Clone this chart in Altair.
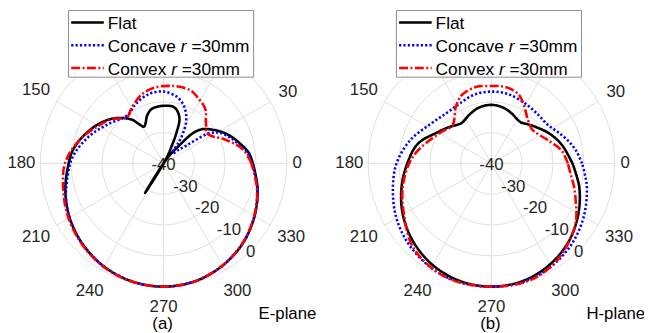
import altair as alt
import pandas as pd

# ---------------- data (angle in degrees, gain in dB) ----------------
E_FLAT_ANG = [0, 7, 13, 21, 28, 38, 42, 46, 49, 51, 54, 56, 57.9, 59.5, 61.5, 63, 64.8, 67, 71, 79, 90, 102, 109,
              113.5, 118, 122, 126, 137, 148.5, 162, 172, 180, 195, 210, 225, 240, 255, 270, 285, 300, 315, 330,
              345, 360]
E_FLAT_DB = [-11.0, -12.1, -13.9, -16.2, -18.4, -21.9, -23.5, -26.5, -32.5, -35, -37.5, -42, -51.3, -44, -38, -36,
             -34, -29.5, -24.2, -21.5, -21.3, -21.9, -23.6, -25.5, -26.5, -25, -22.4, -18.5, -15.4, -12.3, -10.2,
             -9.2, -7.0, -4.8, -2.9, -1.35, -0.35, 0, -0.4, -1.7, -3.5, -5.9, -8.4, -11.0]

E_CONC_ANG = [0, 7, 13, 21, 28, 31, 34, 36, 38, 42, 47, 51, 54, 57, 62, 69.5, 78, 90, 102, 115, 127, 144, 160,
              176, 190, 200, 211, 225, 240, 255, 270, 285, 300, 315, 330, 345, 360]
E_CONC_DB = [-11.2, -12.5, -14.4, -16.8, -19, -20.5, -22.8, -27, -30.5, -33.5, -35.6, -35.3, -32, -28.5, -24.3,
             -20.6, -18.1, -16.7, -17, -18.7, -20.5, -18.1, -14.3, -10.4, -8.2, -6.3, -4.6, -2.9, -1.35, -0.35,
             0, -0.4, -1.7, -3.5, -5.9, -8.5, -11.2]

E_CONV_ANG = [0, 7, 13, 18, 23, 27.5, 32, 36.4, 40, 45.3, 51.2, 56, 61, 69, 79.3, 86.6, 96.4, 107.4, 119.5, 128.4,
              139, 149.6, 164.7, 180, 196, 210, 225, 240, 255, 270, 285, 300, 315, 330, 345, 360]
E_CONV_DB = [-11.5, -13, -15, -17.3, -19.3, -21.4, -22.5, -22.9, -21.9, -20.5, -18.1, -17, -16.2, -14.8, -14.6,
             -14.8, -15.2, -16.5, -19.1, -20.9, -18, -15.7, -11.6, -8.0, -6.2, -4.4, -2.7, -1.2, -0.3, 0, -0.4,
             -1.7, -3.6, -6.0, -8.6, -11.5]

H_FLAT_ANG = [0, 15, 28, 40, 48, 54, 60, 67, 78, 90, 102, 113, 120, 126, 132, 140, 150, 165, 180, 195, 210, 225,
              240, 255, 270, 285, 300, 315, 330, 345, 360]
H_FLAT_DB = [-13.7, -16.4, -19.0, -21.5, -22.8, -23.6, -23.4, -22.6, -21.5, -21.0, -21.4, -22.5, -23.3, -23.7,
             -23.2, -21.8, -19.8, -15.3, -12.7, -9.8, -6.8, -4.1, -1.9, -0.5, 0, -0.5, -2.1, -4.4, -7.4, -10.5,
             -13.7]

H_CONC_ANG = [0, 8, 16.7, 26, 34, 46, 60, 76, 90, 104, 118, 132, 148, 164, 180, 195, 210, 225, 240, 255, 270, 285,
              300, 315, 330, 345, 352, 360]
H_CONC_DB = [-10.6, -12.1, -14.1, -16.3, -17.8, -18.1, -17.7, -16.9, -16.7, -17.0, -18.0, -18.1, -16.3, -12.6,
             -9.2, -6.9, -4.4, -2.4, -0.9, -0.1, 0, -0.2, -1.3, -3.1, -5.4, -7.9, -9.2, -10.6]

H_CONV_ANG = [0, 10.6, 22, 30, 36, 40.6, 46, 51, 56, 61.6, 68.6, 79.6, 90, 101.6, 112.6, 118, 123, 128, 135.6, 147,
              159.5, 170, 180, 195, 210, 227.6, 248.5, 270, 289, 305, 321, 328, 336.5, 344.5, 352, 360]
H_CONV_DB = [-15.2, -16.9, -20.1, -21.8, -22.6, -22.8, -22.2, -21.4, -20.0, -18.1, -15.9, -14.8, -14.9, -14.7,
             -15.7, -17.0, -18.6, -20.6, -22.4, -21.0, -18.6, -15.8, -13.3, -10.2, -7.2, -2.6, -0.2, 0, -0.1,
             -2.2, -5.6, -7.5, -10.2, -12.2, -14.0, -15.2]

SERIES = ["Flat", "Concave", "Convex"]
PANELS = ["E", "H"]
PANEL_TAGS = ["(a)", "(b)"]
PLANE_NAMES = ["E-plane", "H-plane"]
SPOKE_ANGLES = list(range(0, 360, 30))
ANGLE_LABELS = [0, 30, 150, 180, 210, 240, 270, 300, 330]   # 60/90/120 sit under the legend
R_TICKS = [-40, -30, -20, -10, 0]
RINGS = [-30, -20, -10, 0]
LEGEND_PIECES = [  # (series row, text, italic, x offset from text start)
    (0, "Flat", False, 0.0),
    (1, "Concave", False, 0.0), (1, "r", True, 74.0), (1, "=30mm", False, 84.7),
    (2, "Convex", False, 0.0), (2, "r", True, 64.2), (2, "=30mm", False, 74.9),
]

# ---------------- layout constants ----------------
W, H = 644, 325
K = 124.8 / 40.0          # px per dB
CY = 155.3
FONT = "Liberation Sans"
TXT = "#262626"
GRID = "#dedede"
CX_EXPR = "datum.panel == 'E' ? 157.5 : 489.5"
COLORS = {"Flat": "black", "Concave": "#0000ff", "Convex": "#ff0000"}
DASH = {"Flat": [1, 0], "Concave": [2.2, 2.2], "Convex": [9, 2.5, 2, 2.5]}
WIDTHS = {"Flat": 2.6, "Concave": 2.6, "Convex": 2.6}

xs = alt.Scale(domain=[0, W], nice=False, zero=False)
ys = alt.Scale(domain=[0, H], nice=False, zero=False, reverse=True)
X = lambda f: alt.X(f, type="quantitative", scale=xs, axis=None)
Y = lambda f: alt.Y(f, type="quantitative", scale=ys, axis=None)
X2 = lambda f: alt.X2(f)
Y2 = lambda f: alt.Y2(f)

# ---------------- tables ----------------
series_data = {
    ("E", "Flat"): (E_FLAT_ANG, E_FLAT_DB), ("E", "Concave"): (E_CONC_ANG, E_CONC_DB),
    ("E", "Convex"): (E_CONV_ANG, E_CONV_DB), ("H", "Flat"): (H_FLAT_ANG, H_FLAT_DB),
    ("H", "Concave"): (H_CONC_ANG, H_CONC_DB), ("H", "Convex"): (H_CONV_ANG, H_CONV_DB),
}
rows = []
for (p, s), (angs, dbs) in series_data.items():
    for i, (a, d) in enumerate(zip(angs, dbs)):
        rows.append({"panel": p, "series": s, "i": i, "ang": a, "db": d})
curves = pd.DataFrame(rows)

spokes = pd.DataFrame([{"panel": p, "ang": a} for p in PANELS for a in SPOKE_ANGLES])
rings = pd.DataFrame([{"panel": p, "v": v} for p in PANELS for v in RINGS])
alabels = pd.DataFrame([{"panel": p, "ang": a, "lab": str(a)} for p in PANELS for a in ANGLE_LABELS])
rlabels = pd.DataFrame([{"panel": p, "v": v, "lab": str(v)} for p in PANELS for v in R_TICKS])
legend_rows = pd.DataFrame([{"panel": p, "series": s, "row": k} for p in PANELS for k, s in enumerate(SERIES)])
legend_txt = pd.DataFrame([{"panel": p, "row": r, "txt": t, "it": it, "dx": dx}
                           for p in PANELS for (r, t, it, dx) in LEGEND_PIECES])
panels = pd.DataFrame({"panel": PANELS, "tag": PANEL_TAGS, "plane": PLANE_NAMES})


def with_cx(ch):
    return ch.transform_calculate(cx=CX_EXPR)


# grid spokes
spoke_layer = with_cx(alt.Chart(spokes)).transform_calculate(
    x0="datum.cx", y0=f"{CY}",
    x1=f"datum.cx + {40*K}*cos(datum.ang*PI/180)", y1=f"{CY} - {40*K}*sin(datum.ang*PI/180)"
).mark_rule(color=GRID, strokeWidth=1).encode(x=X("x0"), y=Y("y0"), x2=X2("x1"), y2=Y2("y1"))

# grid rings
ring_layer = with_cx(alt.Chart(rings)).transform_calculate(
    x0="datum.cx", y0=f"{CY}", sz=f"pow(2*(datum.v+40)*{K}, 2)"
).mark_point(shape="circle", filled=False, color=GRID, strokeWidth=1, opacity=1).encode(
    x=X("x0"), y=Y("y0"), size=alt.Size("sz:Q", scale=None, legend=None))

# angle labels
alab_layer = with_cx(alt.Chart(alabels)).transform_calculate(
    t="datum.ang*PI/180",
).transform_calculate(
    rl="131 + 0.5*(8.6*length(datum.lab)*abs(cos(datum.t)) + 28*abs(sin(datum.t)))"
).transform_calculate(
    lx="datum.cx + datum.rl*cos(datum.t)", ly=f"{CY} - datum.rl*sin(datum.t)"
).mark_text(font=FONT, fontSize=17, color=TXT, align="center", baseline="middle").encode(
    x=X("lx"), y=Y("ly"), text="lab:N")

# radial labels
rlab_layer = with_cx(alt.Chart(rlabels)).transform_calculate(
    lx=f"datum.cx + (datum.v+40)*{K}*cos(PI/4)", ly=f"{CY} + (datum.v+40)*{K}*sin(PI/4) + 1.5"
).mark_text(font=FONT, fontSize=17, color=TXT, align="center", baseline="middle").encode(
    x=X("lx"), y=Y("ly"), text="lab:N")

# curves
curve_layers = []
for s in SERIES:
    c = with_cx(alt.Chart(curves)).transform_filter(f"datum.series == '{s}'").transform_calculate(
        r=f"(datum.db + 40)*{K}"
    ).transform_calculate(
        px="datum.cx + datum.r*cos(datum.ang*PI/180)", py=f"{CY} - datum.r*sin(datum.ang*PI/180)"
    ).mark_line(interpolate="catmull-rom", color=COLORS[s], strokeWidth=WIDTHS[s], strokeDash=DASH[s],
                strokeCap="butt").encode(x=X("px"), y=Y("py"), order="i:Q", detail="panel:N")
    curve_layers.append(c)

# legend box
box_layer = with_cx(alt.Chart(panels)).transform_calculate(
    bx0="datum.cx - 96.2", bx1="datum.cx + 91.2", by0="0.5", by1="68"
).mark_rect(fill="white", stroke="#8c8c8c", strokeWidth=1).encode(
    x=X("bx0"), x2=X2("bx1"), y=Y("by0"), y2=Y2("by1"))

leg_lines = []
for s in SERIES:
    l = with_cx(alt.Chart(legend_rows)).transform_filter(f"datum.series == '{s}'").transform_calculate(
        lx0="datum.cx - 93.5", lx1="datum.cx - 60.5", ly="12.7 + 23*datum.row"
    ).mark_rule(color=COLORS[s], strokeWidth=WIDTHS[s], strokeDash=DASH[s], strokeCap="butt").encode(
        x=X("lx0"), x2=X2("lx1"), y=Y("ly"))
    leg_lines.append(l)

leg_text = []
for italic in (False, True):
    t = with_cx(alt.Chart(legend_txt)).transform_filter(
        "datum.it" if italic else "!datum.it").transform_calculate(
        tx="datum.cx - 56.5 + datum.dx", ty="19.3 + 23*datum.row"
    ).mark_text(font=FONT, fontSize=17.5, color="black", align="left", baseline="alphabetic",
                fontStyle="italic" if italic else "normal").encode(x=X("tx"), y=Y("ty"), text="txt:N")
    leg_text.append(t)

plane_layer = with_cx(alt.Chart(panels)).transform_calculate(
    tx="datum.cx + 96.2", ty="312.5"
).mark_text(font=FONT, fontSize=17, color="black", align="left", baseline="alphabetic").encode(
    x=X("tx"), y=Y("ty"), text="plane:N")

tag_layer = with_cx(alt.Chart(panels)).transform_calculate(
    tx="datum.cx - 1", ty="323"
).mark_text(font=FONT, fontSize=17, color="black", align="center", baseline="alphabetic").encode(
    x=X("tx"), y=Y("ty"), text="tag:N")

chart = alt.layer(
    ring_layer, spoke_layer, alab_layer, rlab_layer, *curve_layers, box_layer, *leg_lines, *leg_text,
    plane_layer, tag_layer
).properties(
    width=W, height=H, autosize=alt.AutoSizeParams(type="none"), padding=0
).configure_view(stroke=None)

chart.save("out.html", embed_options={"renderer": "svg", "actions": False})
